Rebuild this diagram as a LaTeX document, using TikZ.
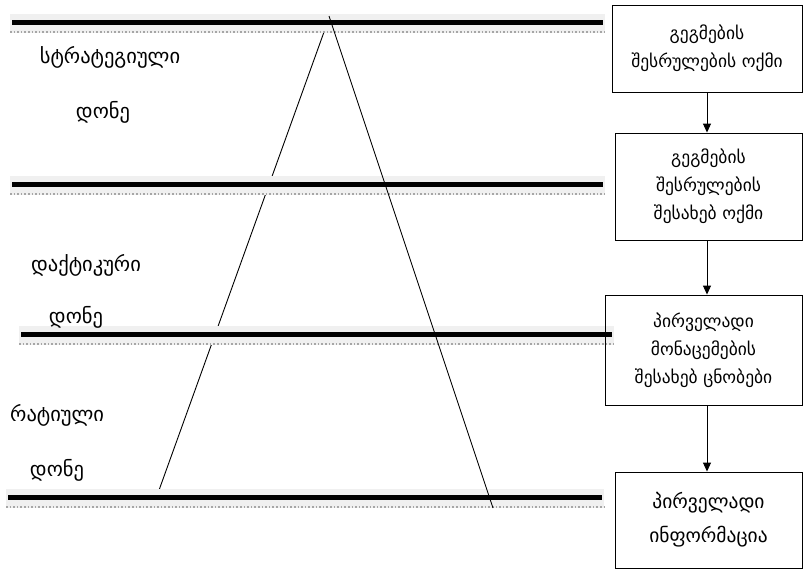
\documentclass[tikz,border=0pt]{standalone}
\usepackage{fontspec}
\setmainfont{DejaVu Sans}
\usetikzlibrary{arrows.meta}
\begin{document}
\begin{tikzpicture}[x=1pt,y=-1pt,
  boxstyle/.style={draw,line width=0.9pt,align=center,inner sep=0pt,font=\fontsize{17.5}{28}\selectfont},
  lbl/.style={font=\fontsize{20.5}{24}\selectfont,inner sep=0pt},
  arr/.style={line width=0.9pt,-{Triangle[length=9pt,width=8pt]}},
  tri/.style={line width=0.9pt},
  band/.style={fill=black!6},
  thick bar/.style={line width=5pt},
  dotbar/.style={draw=black!35,line width=1.6pt,dotted}
]
\useasboundingbox (0,0) rectangle (812,579);

% triangle: left side (under bars)
\coordinate (L1) at (324,32);
\coordinate (L2) at (158,493);
\coordinate (R1) at (329,16);
\coordinate (R2) at (493,508);
\draw[tri] (L1) -- (L2);

% bars
\newcommand{\levelbar}[3]{%
  \fill[band] (#1,#3-8) rectangle (#2,#3+11);
  \draw[thick bar] (#1+2,#3) -- (#2-2,#3);
  \draw[dotbar] (#1,#3+10) -- (#2,#3+10);
}
\levelbar{10}{605}{22}
\levelbar{10}{605}{184}
\levelbar{19}{614}{334}
\levelbar{6}{604}{497}

\draw[tri] (R1) -- (R2);

% labels
\node[lbl] (s1) at (110,57) {სტრატეგიული};
\node[lbl] (s2) at (103,112) {დონე};
\node[lbl] (t1) at (86,265) {დაქტიკური};
\node[lbl] (t2) at (76,317) {დონე};
\node[lbl,anchor=west] (o1) at (10,415) {რატიული};
\node[lbl] (o2) at (57,470) {დონე};

% boxes
\node[boxstyle,minimum width=190,minimum height=87] (b1) at (707,48.5)
  {გეგმების\\შესრულების ოქმი};
\node[boxstyle,minimum width=187,minimum height=107] (b2) at (708.5,186.5)
  {გეგმების\\შესრულების\\შესახებ ოქმი};
\node[boxstyle,minimum width=197,minimum height=110] (b3) at (703.5,350)
  {პირველადი\\მონაცემების\\შესახებ ცნობები};
\node[boxstyle,minimum width=187,minimum height=96,font=\fontsize{19.5}{34}\selectfont] (b4) at (708.5,520)
  {პირველადი\\ინფორმაცია};

\draw[arr] (b1.south) -- (b1.south |- b2.north);
\draw[arr] (b2.south -| b1.south) -- (b1.south |- b3.north);
\draw[arr] (b3.south -| b1.south) -- (b1.south |- b4.north);
\end{tikzpicture}
\end{document}
